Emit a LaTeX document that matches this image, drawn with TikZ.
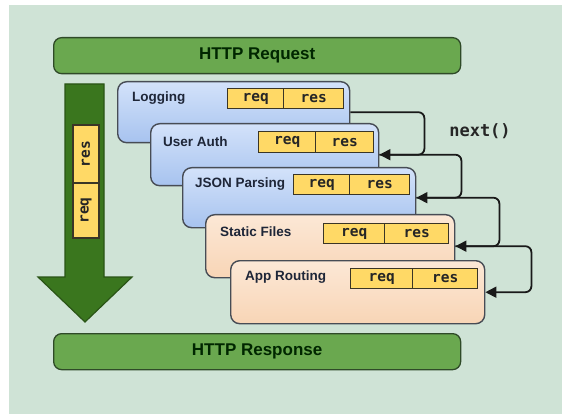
\documentclass[tikz,border=0pt]{standalone}
\usepackage{fontspec}
\setmainfont{Liberation Sans}
\newfontfamily\monof{DejaVu Sans Mono}
\usetikzlibrary{arrows.meta}
\definecolor{bgc}{HTML}{CFE3D6}
\definecolor{barfill}{HTML}{6AA84F}
\definecolor{barline}{HTML}{2F4A28}
\definecolor{arrfill}{HTML}{3A761E}
\definecolor{arrline}{HTML}{2A5416}
\definecolor{bluetop}{HTML}{D3E2FA}
\definecolor{bluebot}{HTML}{A7C3EF}
\definecolor{peachtop}{HTML}{FCE8D6}
\definecolor{peachbot}{HTML}{F8D5B6}
\definecolor{boxline}{HTML}{474C55}
\definecolor{rrfill}{HTML}{FFD966}
\definecolor{rrline}{HTML}{3A3526}
\definecolor{lbltext}{HTML}{1E2638}
\tikzset{
  bar/.style={draw=barline, fill=barfill, line width=1.3pt, rounded corners=8pt,
    minimum width=407pt, minimum height=36pt, inner sep=0pt, anchor=north west,
    font=\bfseries\fontsize{17}{17}\selectfont, text=black!85!green},
  mwblue/.style={draw=boxline, top color=bluetop, bottom color=bluebot, line width=1.4pt,
    rounded corners=9pt, inner sep=0pt, anchor=north west},
  mwpeach/.style={draw=boxline, top color=peachtop, bottom color=peachbot, line width=1.4pt,
    rounded corners=9pt, inner sep=0pt, anchor=north west},
  lbl/.style={anchor=west, inner sep=0pt, text=lbltext, font=\bfseries\fontsize{13.5}{13.5}\selectfont},
  rr/.style={draw=rrline, fill=rrfill, line width=1.3pt, inner sep=0pt, anchor=north west,
    minimum height=20pt, font=\monof\bfseries\fontsize{14.5}{14.5}\selectfont, text=black!85},
  conn/.style={line width=1.8pt, draw=black!90, rounded corners=6pt,
    -{Triangle[length=11pt,width=11pt]}},
}
\begin{document}
\begin{tikzpicture}[x=1pt,y=-1pt]
\useasboundingbox (0,0) rectangle (562,414);
\fill[bgc] (9,5) rectangle (562,414);

% bars
\node[bar] (request) at (53,37) {HTTP Request};
\node[bar] (response) at (53,333) {HTTP Response};

% big arrow
\filldraw[fill=arrfill, draw=arrline, line width=1.2pt, line join=miter]
  (65,84) -- (104,84) -- (104,277) -- (132,277) -- (85,322) -- (38,277) -- (65,277) -- cycle;
\node[rr, anchor=center, rotate=90, minimum width=58pt, minimum height=26pt] (arres) at (86,154) {res};
\node[rr, anchor=center, rotate=90, minimum width=55pt, minimum height=26pt] (arreq) at (86,210.5) {req};

% middleware boxes
\node[mwblue, minimum width=232pt, minimum height=61pt] (log) at (117,81) {};
\node[lbl] (loglbl) at (132,98) {Logging};
\node[rr, minimum width=56pt] (logreq) at (227,88) {req};
\node[rr, minimum width=60pt] (logres) at (283,88) {res};

\node[mwblue, minimum width=228pt, minimum height=62pt] (ua) at (150,123) {};
\node[lbl] (ualbl) at (163,142) {User Auth};
\node[rr, minimum width=57pt, minimum height=21pt] (uareq) at (258,131) {req};
\node[rr, minimum width=58pt, minimum height=21pt] (uares) at (315,131) {res};

\node[mwblue, minimum width=233pt, minimum height=60pt] (json) at (182,167) {};
\node[lbl] (jsonlbl) at (195,184) {JSON Parsing};
\node[rr, minimum width=56pt] (jsonreq) at (293,174) {req};
\node[rr, minimum width=60pt] (jsonres) at (349,174) {res};

\node[mwpeach, minimum width=249pt, minimum height=63pt] (stat) at (205,214) {};
\node[lbl] (statlbl) at (220,232) {Static Files};
\node[rr, minimum width=61pt] (statreq) at (323,223) {req};
\node[rr, minimum width=64pt] (statres) at (384,223) {res};

\node[mwpeach, minimum width=254pt, minimum height=63pt] (app) at (230,260) {};
\node[lbl] (applbl) at (245,277) {App Routing};
\node[rr, minimum width=62pt] (appreq) at (350,268) {req};
\node[rr, minimum width=65pt] (appres) at (412,268) {res};

% connectors
\draw[conn] (log.east) -- ([xshift=74pt]log.east) |- (ua.east);
\draw[conn] (ua.east) -- ([xshift=82pt]ua.east) |- (json.east);
\draw[conn] (json.east) -- ([xshift=83pt]json.east) |- (stat.east);
\draw[conn] (stat.east) -- ([xshift=76pt]stat.east) |- (app.east);

\node[font=\monof\bfseries\fontsize{17}{17}\selectfont, text=black!85] (next) at (480,131) {next()};
\end{tikzpicture}
\end{document}
